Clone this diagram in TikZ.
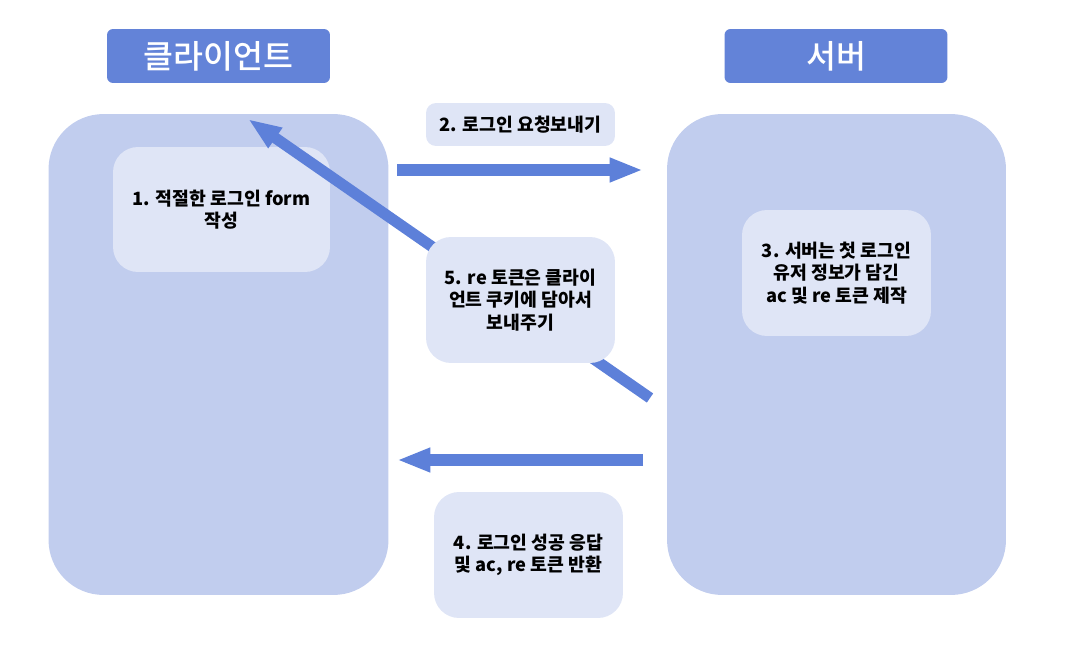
\documentclass[tikz,border=0pt]{standalone}
\usepackage{fontspec}
\setmainfont{Noto Sans CJK KR}
\newfontfamily\titlefont{Noto Sans CJK KR Medium}
\usetikzlibrary{arrows.meta}
\definecolor{panelblue}{HTML}{C1CDEE}
\definecolor{stepfill}{HTML}{DFE5F6}
\definecolor{titleblue}{HTML}{6383D8}
\definecolor{flowblue}{HTML}{5D80D9}
\tikzset{
  panel/.style={fill=panelblue, draw=none, rounded corners=1.1cm,
    minimum width=6.8cm, minimum height=9.62cm},
  titlebox/.style={fill=titleblue, draw=none, rounded corners=0.12cm,
    minimum width=4.46cm, minimum height=1.08cm, text=white,
    font=\titlefont\fontsize{18.5}{22}\selectfont},
  stepbox/.style={fill=stepfill, draw=none, rounded corners=0.5cm,
    minimum width=3.78cm, minimum height=2.52cm, align=center,
    font=\fontsize{10.4}{12.8}\selectfont\bfseries},
  flow/.style={draw=flowblue, line width=6.3pt,
    -{Triangle[length=19pt,width=12.8pt]}}
}
\begin{document}
\begin{tikzpicture}[x=0.02cm,y=-0.02cm]
\useasboundingbox (0,0) rectangle (1077,648);

\node[panel] (client) at (218.5,354.5) {};
\node[panel, minimum width=6.78cm] (server) at (836.5,354.5) {};
\node[titlebox] (clienttitle) at (218.5,56) {클라이언트};
\node[titlebox] (servertitle) at (836,56) {서버};

\node[stepbox, minimum width=4.34cm, minimum height=2.5cm] (form) at (221.5,209.5)
  {1. 적절한 로그인 form\\작성};
\node[stepbox, minimum height=0.86cm, rounded corners=0.2cm] (request) at (520.5,124.5)
  {2. 로그인 요청보내기};
\node[stepbox] (token) at (836.5,273)
  {3. 서버는 첫 로그인\\유저 정보가 담긴\\ac 및 re 토큰 제작};
\node[stepbox] (response) at (528.5,555)
  {4. 로그인 성공 응답\\및 ac, re 토큰 반환};

\coordinate (reqstart) at (397,170);
\coordinate (reqend) at (643,170);
\coordinate (resstart) at (643,460);
\coordinate (resend) at (397,460);
\coordinate (cookiestart) at (650,398);
\coordinate (cookieend) at (248,119);

\draw[flow] (reqstart) -- (reqend);
\draw[flow] (resstart) -- (resend);
\draw[flow] (cookiestart) -- (cookieend);

\node[stepbox] (cookie) at (520.5,300)
  {5. re 토큰은 클라이\\언트 쿠키에 담아서\\보내주기};
\end{tikzpicture}
\end{document}
